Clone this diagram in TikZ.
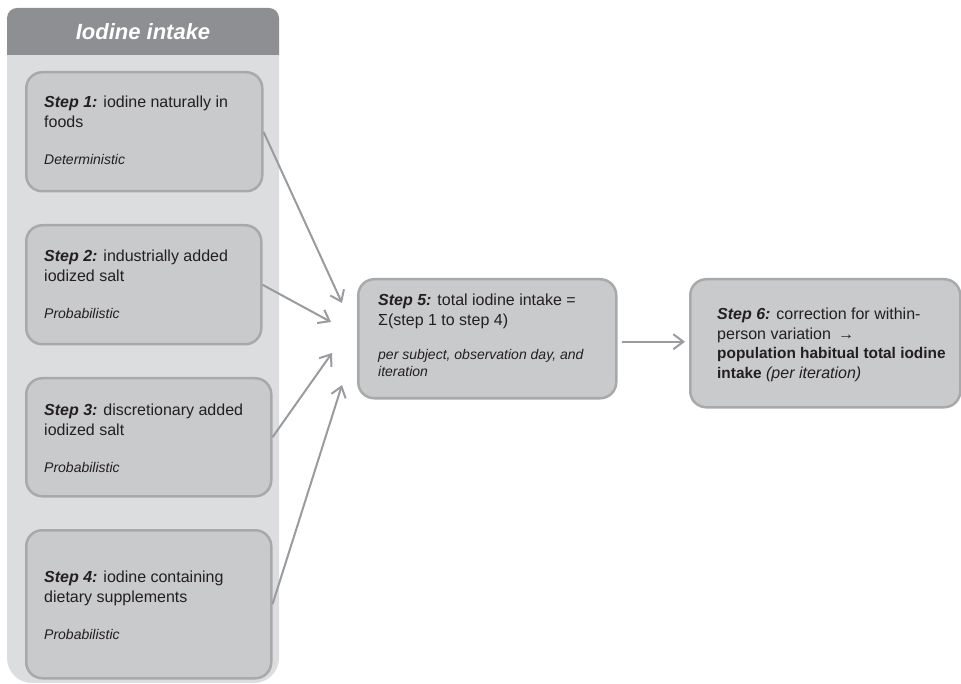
\documentclass[tikz,border=0pt]{standalone}
\usepackage{fontspec}
\setmainfont{Liberation Sans}
\usetikzlibrary{arrows.meta,calc}
\definecolor{hdr}{HTML}{8E8F92}
\definecolor{panel}{HTML}{DCDDDF}
\definecolor{boxfill}{HTML}{C9CACC}
\definecolor{boxline}{HTML}{A8A9AB}
\definecolor{arr}{HTML}{9A9B9E}
\definecolor{ink}{HTML}{231F20}
\newcommand{\stp}[1]{\textbf{\textit{#1}}}
\begin{document}
\begin{tikzpicture}[x=1pt,y=-1pt,
  stepbox/.style={draw=boxline, fill=boxfill, line width=2.5pt, rounded corners=16pt, anchor=north west, inner sep=0pt},
  line/.style={anchor=base west, inner sep=0pt, text=ink, font=\fontsize{16}{18.5}\selectfont},
  note/.style={anchor=base west, inner sep=0pt, text=ink, font=\fontsize{14}{17}\selectfont\itshape},
  link/.style={draw=arr, line width=2pt, -{Straight Barb[length=10pt,width=15pt]}}]
\useasboundingbox (0,0) rectangle (961,684);
% panel
\fill[panel] (7,40) [rounded corners=25pt] -- (7,683) -- (279,683) [sharp corners] -- (279,40) -- cycle;
\fill[hdr] (7,55) [rounded corners=10pt] -- (7,8) -- (279,8) [sharp corners] -- (279,55) -- cycle;
\node[text=white, font=\fontsize{22}{26}\selectfont\bfseries\itshape] (hd) at (143,32) {Iodine intake};
% boxes
\node[stepbox, minimum width=236pt, minimum height=119pt] (s1) at (25,71) {};
\node[stepbox, minimum width=235pt, minimum height=119pt] (s2) at (25,224) {};
\node[stepbox, minimum width=245pt, minimum height=118pt] (s3) at (25,377) {};
\node[stepbox, minimum width=245pt, minimum height=148pt] (s4) at (25,529) {};
\node[stepbox, minimum width=258pt, minimum height=119pt] (s5) at (357,278) {};
\node[stepbox, minimum width=270pt, minimum height=128pt] (s6) at (689,278) {};
% texts
\node[line] (s1a) at (44,108) {\stp{Step 1:} iodine naturally in};
\node[line] (s1b) at (44,128) {foods};
\node[note] (s1c) at (44,165) {Deterministic};
\node[line] (s2a) at (44,262) {\stp{Step 2:} industrially added};
\node[line] (s2b) at (44,282) {iodized salt};
\node[note] (s2c) at (44,319) {Probabilistic};
\node[line] (s3a) at (44,415) {\stp{Step 3:} discretionary added};
\node[line] (s3b) at (44,435) {iodized salt};
\node[note] (s3c) at (44,472) {Probabilistic};
\node[line] (s4a) at (44,582) {\stp{Step 4:} iodine containing};
\node[line] (s4b) at (44,602) {dietary supplements};
\node[note] (s4c) at (44,639) {Probabilistic};
\node[line] (s5a) at (378,306) {\stp{Step 5:} total iodine intake =};
\node[line] (s5b) at (378,326) {Σ(step 1 to step 4)};
\node[note] (s5c) at (378,360) {per subject, observation day, and};
\node[note] (s5d) at (378,377) {iteration};
\node[line] (s6a) at (717,320) {\stp{Step 6:} correction for within-};
\node[line] (s6b) at (717,339.5) {person variation \,→};
\node[line, font=\fontsize{15.4}{18.5}\selectfont] (s6c) at (717,359) {\textbf{population habitual total iodine}};
\node[line] (s6d) at (717,378.5) {{\fontsize{15.4}{18.5}\selectfont\textbf{intake}} \textit{(per iteration)}};
% arrow ends
\coordinate (t1) at (342,303);
\coordinate (t2) at (331,322);
\coordinate (t3) at (332,353);
\coordinate (t4) at (342,385);
\draw[link] (s1.east) -- (t1);
\draw[link] (s2.east) -- (t2);
\draw[link] (s3.east) -- (t3);
\draw[link] (s4.east) -- (t4);
\draw[link, shorten <=4pt, shorten >=4pt] ([yshift=-3pt]s5.east) -- ([yshift=-3pt]s5.east -| s6.west);
\end{tikzpicture}
\end{document}
